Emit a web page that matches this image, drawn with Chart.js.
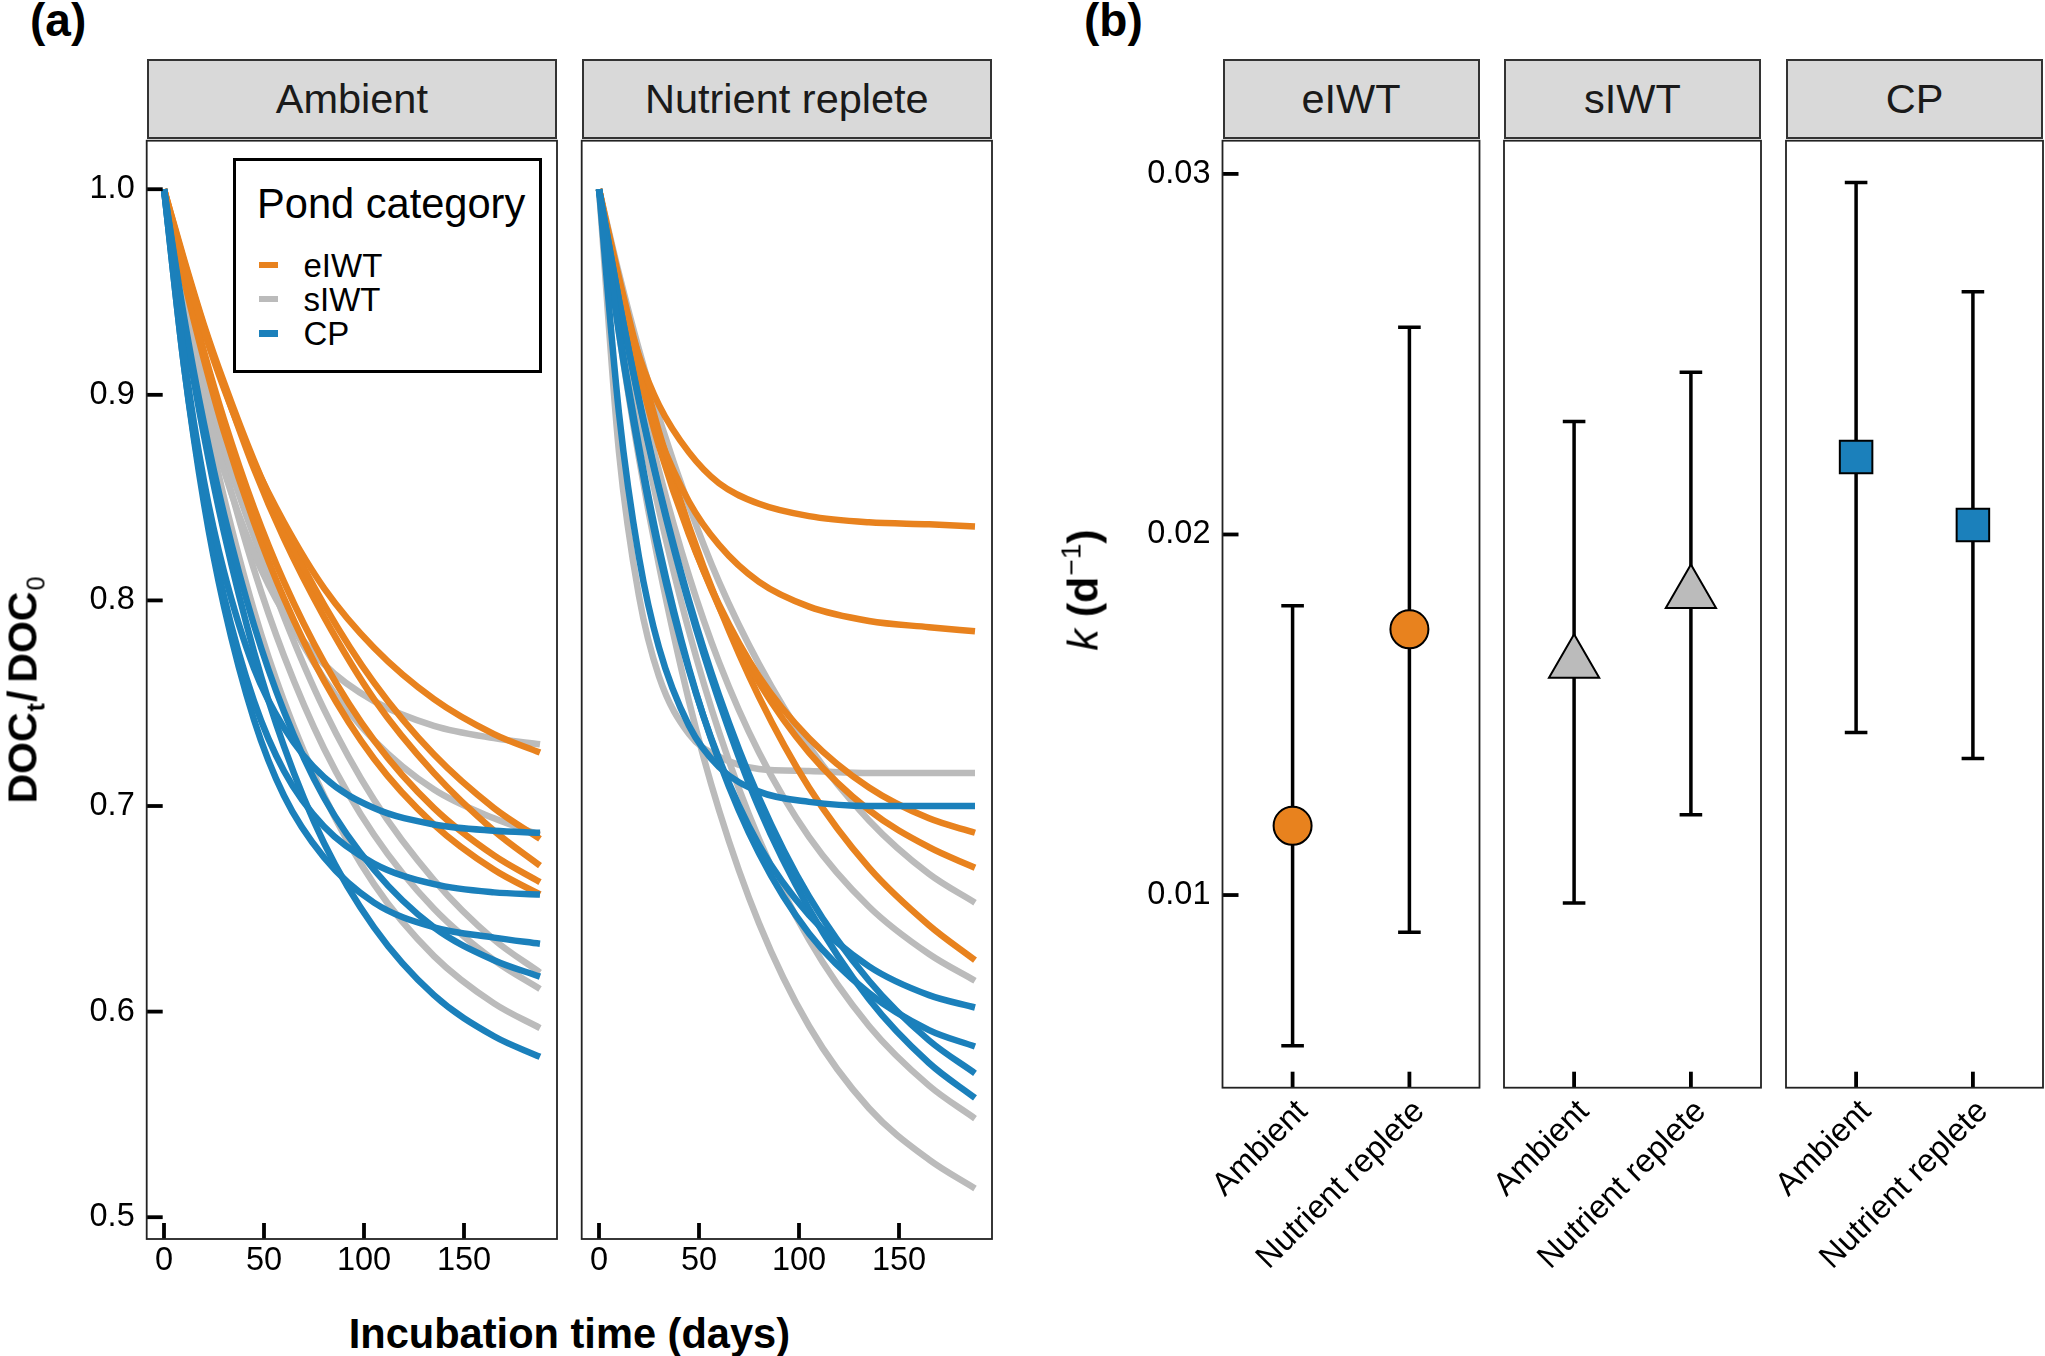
<!DOCTYPE html>
<html>
<head>
<meta charset="utf-8">
<script src="https://cdn.jsdelivr.net/npm/chart.js@4.4.1/dist/chart.umd.min.js"></script>
<style>
  html,body{margin:0;padding:0;background:#fff;}
  body{position:relative;width:2045px;height:1356px;overflow:hidden;font-family:"Liberation Sans",Arial,Helvetica,sans-serif;color:#000;}
  canvas{position:absolute;}
  .strip{position:absolute;box-sizing:border-box;background:#d9d9d9;border:2px solid #333;font-size:41.5px;color:#1a1a1a;display:flex;align-items:center;justify-content:center;white-space:nowrap;}
  .abs{position:absolute;white-space:nowrap;}
</style>
</head>
<body>
<!-- panel labels -->
<div class="abs" style="left:30px;top:-3px;font-size:46px;line-height:46px;font-weight:bold;">(a)</div>
<div class="abs" style="left:1084px;top:-3px;font-size:46px;line-height:46px;font-weight:bold;">(b)</div>

<!-- strips -->
<div class="strip" style="left:146.7px;top:59px;width:410.3px;height:80px;">Ambient</div>
<div class="strip" style="left:581.7px;top:59px;width:410.3px;height:80px;">Nutrient replete</div>
<div class="strip" style="left:1222.5px;top:59px;width:257px;height:80px;">eIWT</div>
<div class="strip" style="left:1504px;top:59px;width:257px;height:80px;">sIWT</div>
<div class="strip" style="left:1786px;top:59px;width:257px;height:80px;">CP</div>

<canvas id="cAmb" width="527" height="1170" style="left:40px;top:130px;"></canvas>
<canvas id="cRep" width="432" height="1170" style="left:570px;top:130px;"></canvas>
<canvas id="cE" width="390" height="1226" style="left:1100px;top:130px;"></canvas>
<canvas id="cS" width="321" height="1226" style="left:1450px;top:130px;"></canvas>
<canvas id="cC" width="315" height="1226" style="left:1730px;top:130px;"></canvas>

<!-- legend -->
<div class="abs" style="left:232.6px;top:158.3px;width:309.4px;height:215px;box-sizing:border-box;border:3px solid #000;background:#fff;"></div>
<div class="abs" style="left:257px;top:183px;font-size:41.6px;line-height:41.6px;">Pond category</div>
<div class="abs" style="left:258.7px;top:261.75px;width:19.1px;height:6.5px;background:#E8821E;"></div>
<div class="abs" style="left:258.7px;top:295.75px;width:19.1px;height:6.5px;background:#BBBBBB;"></div>
<div class="abs" style="left:258.7px;top:330.05px;width:19.1px;height:6.5px;background:#1B80BB;"></div>
<div class="abs" style="left:303.5px;top:248.8px;font-size:33px;line-height:33px;">eIWT</div>
<div class="abs" style="left:303.5px;top:282.8px;font-size:33px;line-height:33px;">sIWT</div>
<div class="abs" style="left:303.5px;top:317px;font-size:33px;line-height:33px;">CP</div>

<!-- axis titles -->
<div class="abs" style="left:569.4px;top:1312.8px;font-size:41.6px;line-height:41.6px;font-weight:bold;transform:translateX(-50%);">Incubation time (days)</div>
<div class="abs" style="left:23px;top:690px;font-size:41px;line-height:41px;font-weight:bold;transform:translate(-50%,-50%) rotate(-90deg);">DOC<span style="font-size:25px;line-height:0;position:relative;top:8px;margin-left:1px;margin-right:1px;">t</span><span style="margin-right:8px;">/</span>DOC<span style="font-size:25px;line-height:0;position:relative;top:8px;font-weight:normal;margin-left:1px;">0</span></div>
<div class="abs" style="left:1083px;top:590px;font-size:43px;line-height:43px;transform:translate(-50%,-50%) rotate(-90deg);"><i>k</i> <b>(d</b><span style="font-size:28px;line-height:0;position:relative;top:-17px;margin-left:1px;">−1</span><b>)</b></div>

<script>
// ---------------- data: panel (a) ----------------
const TIME_DAYS = [0, 10, 20, 30, 45, 60, 80, 105, 135, 165, 188];
const xTicksA = [0, 50, 100, 150];
const xTickLabelsA = ['0', '50', '100', '150'];
const yTicksA = [0.5, 0.6, 0.7, 0.8, 0.9, 1.0];
const yTickLabelsA = ['0.5', '0.6', '0.7', '0.8', '0.9', '1.0'];

const ambientEIWT = [
  [1, 0.963, 0.931, 0.903, 0.867, 0.838, 0.806, 0.777, 0.752, 0.735, 0.726],
  [1, 0.966, 0.934, 0.906, 0.868, 0.835, 0.798, 0.760, 0.725, 0.699, 0.684],
  [1, 0.965, 0.933, 0.904, 0.864, 0.830, 0.792, 0.752, 0.716, 0.688, 0.671],
  [1, 0.958, 0.921, 0.888, 0.845, 0.809, 0.770, 0.732, 0.699, 0.676, 0.663],
  [1, 0.956, 0.917, 0.882, 0.838, 0.801, 0.761, 0.723, 0.691, 0.669, 0.657]
];
const ambientSIWT = [
  [1, 0.943, 0.898, 0.863, 0.823, 0.794, 0.769, 0.751, 0.739, 0.733, 0.730],
  [1, 0.951, 0.910, 0.874, 0.831, 0.796, 0.762, 0.732, 0.708, 0.694, 0.686],
  [1, 0.955, 0.915, 0.879, 0.832, 0.792, 0.747, 0.703, 0.664, 0.635, 0.619],
  [1, 0.949, 0.905, 0.866, 0.815, 0.773, 0.728, 0.686, 0.650, 0.625, 0.611],
  [1, 0.943, 0.893, 0.850, 0.795, 0.751, 0.705, 0.662, 0.627, 0.604, 0.592]
];
const ambientCP = [
  [1, 0.919, 0.858, 0.814, 0.767, 0.738, 0.714, 0.699, 0.691, 0.688, 0.687],
  [1, 0.914, 0.850, 0.802, 0.751, 0.717, 0.690, 0.672, 0.662, 0.658, 0.657],
  [1, 0.914, 0.847, 0.797, 0.742, 0.705, 0.675, 0.653, 0.641, 0.636, 0.633],
  [1, 0.938, 0.886, 0.842, 0.788, 0.746, 0.704, 0.669, 0.641, 0.625, 0.617],
  [1, 0.935, 0.880, 0.833, 0.775, 0.729, 0.682, 0.641, 0.608, 0.588, 0.578]
];
const repleteEIWT = [
  [1, 0.953, 0.919, 0.895, 0.872, 0.857, 0.847, 0.841, 0.838, 0.837, 0.836],
  [1, 0.949, 0.910, 0.880, 0.848, 0.827, 0.809, 0.797, 0.790, 0.787, 0.785],
  [1, 0.952, 0.911, 0.875, 0.832, 0.798, 0.763, 0.733, 0.709, 0.694, 0.687],
  [1, 0.953, 0.913, 0.878, 0.833, 0.797, 0.760, 0.726, 0.698, 0.680, 0.670],
  [1, 0.957, 0.918, 0.882, 0.836, 0.797, 0.753, 0.709, 0.670, 0.642, 0.625]
];
const repleteSIWT = [
  [1, 0.872, 0.802, 0.763, 0.735, 0.724, 0.718, 0.717, 0.716, 0.716, 0.716],
  [1, 0.959, 0.922, 0.889, 0.846, 0.809, 0.769, 0.729, 0.693, 0.667, 0.653],
  [1, 0.948, 0.903, 0.863, 0.812, 0.770, 0.726, 0.685, 0.651, 0.628, 0.615],
  [1, 0.941, 0.889, 0.844, 0.785, 0.736, 0.684, 0.635, 0.593, 0.564, 0.548],
  [1, 0.930, 0.869, 0.817, 0.751, 0.698, 0.643, 0.593, 0.553, 0.528, 0.514]
];
const repleteCP = [
  [1, 0.891, 0.821, 0.777, 0.739, 0.719, 0.707, 0.702, 0.700, 0.700, 0.700],
  [1, 0.930, 0.872, 0.823, 0.766, 0.723, 0.681, 0.647, 0.622, 0.608, 0.602],
  [1, 0.932, 0.875, 0.826, 0.767, 0.722, 0.677, 0.638, 0.609, 0.591, 0.583],
  [1, 0.946, 0.898, 0.855, 0.800, 0.754, 0.704, 0.656, 0.615, 0.586, 0.570],
  [1, 0.946, 0.897, 0.854, 0.798, 0.751, 0.699, 0.650, 0.606, 0.575, 0.558]
];

// ---------------- data: panel (b) ----------------
const pondCategories = ['eIWT', 'sIWT', 'CP'];
const treatments = ['Ambient', 'Nutrient replete'];
const kMean = [[0.01192, 0.01737], [0.01643, 0.01836], [0.02215, 0.02026]];
const kLow  = [[0.00582, 0.00897], [0.00978, 0.01223], [0.01451, 0.01379]];
const kHigh = [[0.01802, 0.02575], [0.02313, 0.02450], [0.02976, 0.02673]];
const yTicksB = [0.01, 0.02, 0.03];
const yTickLabelsB = ['0.01', '0.02', '0.03'];

// ---------------- styling ----------------
const COLORS = { eIWT: '#E8821E', sIWT: '#BBBBBB', CP: '#1B80BB' };
const FONT = "'Liberation Sans', Arial, Helvetica, sans-serif";
const TICK_FONT = 32.5;
Chart.defaults.font.family = FONT;
Chart.defaults.color = '#000';

function zeroPad(s) {
  s.paddingTop = 0; s.paddingBottom = 0; s.paddingLeft = 0; s.paddingRight = 0;
}

function framePlugin(drawY) {
  return {
    id: 'panelFrame',
    afterDraw(chart) {
      const { ctx, chartArea: a } = chart;
      const xs = chart.scales.x, ys = chart.scales.y;
      ctx.save();
      ctx.strokeStyle = '#000';
      ctx.lineWidth = 3.8;
      ctx.lineCap = 'butt';
      xs.ticks.forEach(t => {
        const px = xs.getPixelForValue(t.value);
        ctx.beginPath(); ctx.moveTo(px, a.bottom); ctx.lineTo(px, a.bottom - 16); ctx.stroke();
      });
      if (drawY) {
        ys.ticks.forEach(t => {
          const py = ys.getPixelForValue(t.value);
          ctx.beginPath(); ctx.moveTo(a.left, py); ctx.lineTo(a.left + 16, py); ctx.stroke();
        });
      }
      ctx.strokeStyle = '#222';
      ctx.lineWidth = 1.8;
      ctx.strokeRect(a.left, a.top, a.right - a.left, a.bottom - a.top);
      ctx.restore();
    }
  };
}

function errorBarPlugin(idx) {
  return {
    id: 'errorBars',
    beforeDatasetsDraw(chart) {
      const { ctx } = chart;
      const xs = chart.scales.x, ys = chart.scales.y;
      ctx.save();
      ctx.strokeStyle = '#000';
      ctx.lineWidth = 3.5;
      ctx.lineCap = 'butt';
      kLow[idx].forEach((lo, j) => {
        const px = xs.getPixelForValue(j + 1);
        const yl = ys.getPixelForValue(lo);
        const yh = ys.getPixelForValue(kHigh[idx][j]);
        ctx.beginPath();
        ctx.moveTo(px, yl); ctx.lineTo(px, yh);
        ctx.moveTo(px - 11.3, yl); ctx.lineTo(px + 11.3, yl);
        ctx.moveTo(px - 11.3, yh); ctx.lineTo(px + 11.3, yh);
        ctx.stroke();
      });
      ctx.restore();
    }
  };
}

function curveDatasets(groups) {
  const ds = [];
  groups.forEach(([curves, color]) => {
    curves.forEach(vals => {
      ds.push({
        type: 'line',
        data: TIME_DAYS.map((t, i) => ({ x: t, y: vals[i] })),
        borderColor: color,
        borderWidth: 6.5,
        pointRadius: 0,
        pointHoverRadius: 0,
        fill: false,
        tension: 0.4,
        cubicInterpolationMode: 'monotone',
        borderCapStyle: 'butt',
        borderJoinStyle: 'round'
      });
    });
  });
  return ds;
}

const X_MIN_A = -8.65, X_MAX_A = 196.5;
const Y_MIN_A = 0.4894, Y_MAX_A = 1.0236;
const Y_MIN_B = 0.004657, Y_MAX_B = 0.030921;

function makeCurveChart(id, groups, showY, pad, yWidth) {
  return new Chart(document.getElementById(id), {
    type: 'line',
    data: { datasets: curveDatasets(groups) },
    options: {
      responsive: false,
      animation: false,
      events: [],
      layout: { padding: pad, autoPadding: false },
      plugins: { legend: { display: false }, tooltip: { enabled: false } },
      scales: {
        x: {
          type: 'linear', min: X_MIN_A, max: X_MAX_A,
          afterBuildTicks: s => { s.ticks = xTicksA.map(v => ({ value: v })); },
          afterFit: s => { s.height = 61; zeroPad(s); },
          grid: { display: false, drawTicks: false },
          border: { display: false },
          ticks: {
            autoSkip: false, maxRotation: 0, minRotation: 0, padding: 3,
            color: '#000', font: { size: TICK_FONT },
            callback: (v, i) => xTickLabelsA[i]
          }
        },
        y: {
          type: 'linear', min: Y_MIN_A, max: Y_MAX_A, display: showY,
          afterBuildTicks: s => { s.ticks = yTicksA.map(v => ({ value: v })); },
          afterFit: s => { s.width = yWidth; zeroPad(s); },
          grid: { display: false, drawTicks: false },
          border: { display: false },
          ticks: {
            autoSkip: false, padding: 12, color: '#000', font: { size: TICK_FONT },
            callback: (v, i) => yTickLabelsA[i]
          }
        }
      }
    },
    plugins: [framePlugin(showY)]
  });
}

function makeKChart(id, idx, pointStyle, radius, showY, pad, yWidth) {
  const color = COLORS[pondCategories[idx]];
  return new Chart(document.getElementById(id), {
    type: 'scatter',
    data: {
      datasets: [{
        data: treatments.map((_, j) => ({ x: j + 1, y: kMean[idx][j] })),
        pointStyle: pointStyle,
        pointRadius: radius,
        pointHoverRadius: radius,
        backgroundColor: color,
        borderColor: '#000',
        borderWidth: 2
      }]
    },
    options: {
      responsive: false,
      animation: false,
      events: [],
      layout: { padding: pad, autoPadding: false },
      plugins: { legend: { display: false }, tooltip: { enabled: false } },
      scales: {
        x: {
          type: 'linear', min: 0.4, max: 2.6,
          afterBuildTicks: s => { s.ticks = treatments.map((_, j) => ({ value: j + 1 })); },
          afterFit: s => { s.height = 268.3; zeroPad(s); },
          grid: { display: false, drawTicks: false },
          border: { display: false },
          ticks: {
            autoSkip: false, maxRotation: 45, minRotation: 45, padding: 5, labelOffset: 10,
            color: '#000', font: { size: TICK_FONT },
            callback: (v, i) => treatments[i]
          }
        },
        y: {
          type: 'linear', min: Y_MIN_B, max: Y_MAX_B, display: showY,
          afterBuildTicks: s => { s.ticks = yTicksB.map(v => ({ value: v })); },
          afterFit: s => { s.width = yWidth; zeroPad(s); },
          grid: { display: false, drawTicks: false },
          border: { display: false },
          ticks: {
            autoSkip: false, padding: 12, color: '#000', font: { size: TICK_FONT },
            callback: (v, i) => yTickLabelsB[i]
          }
        }
      }
    },
    plugins: [errorBarPlugin(idx), framePlugin(showY)]
  });
}

// panel (a): draw order puts CP on top, then eIWT, then sIWT
makeCurveChart('cAmb', [[ambientCP, COLORS.CP], [ambientEIWT, COLORS.eIWT], [ambientSIWT, COLORS.sIWT]],
  true, { left: 0, top: 10.7, right: 10, bottom: 0 }, 106.7);
makeCurveChart('cRep', [[repleteCP, COLORS.CP], [repleteEIWT, COLORS.eIWT], [repleteSIWT, COLORS.sIWT]],
  false, { left: 11.7, top: 10.7, right: 10, bottom: 0 }, 0);

// panel (b)
makeKChart('cE', 0, 'circle', 19, true, { left: 0, top: 10.7, right: 10.5, bottom: 0 }, 122.5);
makeKChart('cS', 1, 'triangle', 29, false, { left: 54, top: 10.7, right: 10, bottom: 0 }, 0);
makeKChart('cC', 2, 'rect', 23, false, { left: 56, top: 10.7, right: 2, bottom: 0 }, 0);
</script>
</body>
</html>
